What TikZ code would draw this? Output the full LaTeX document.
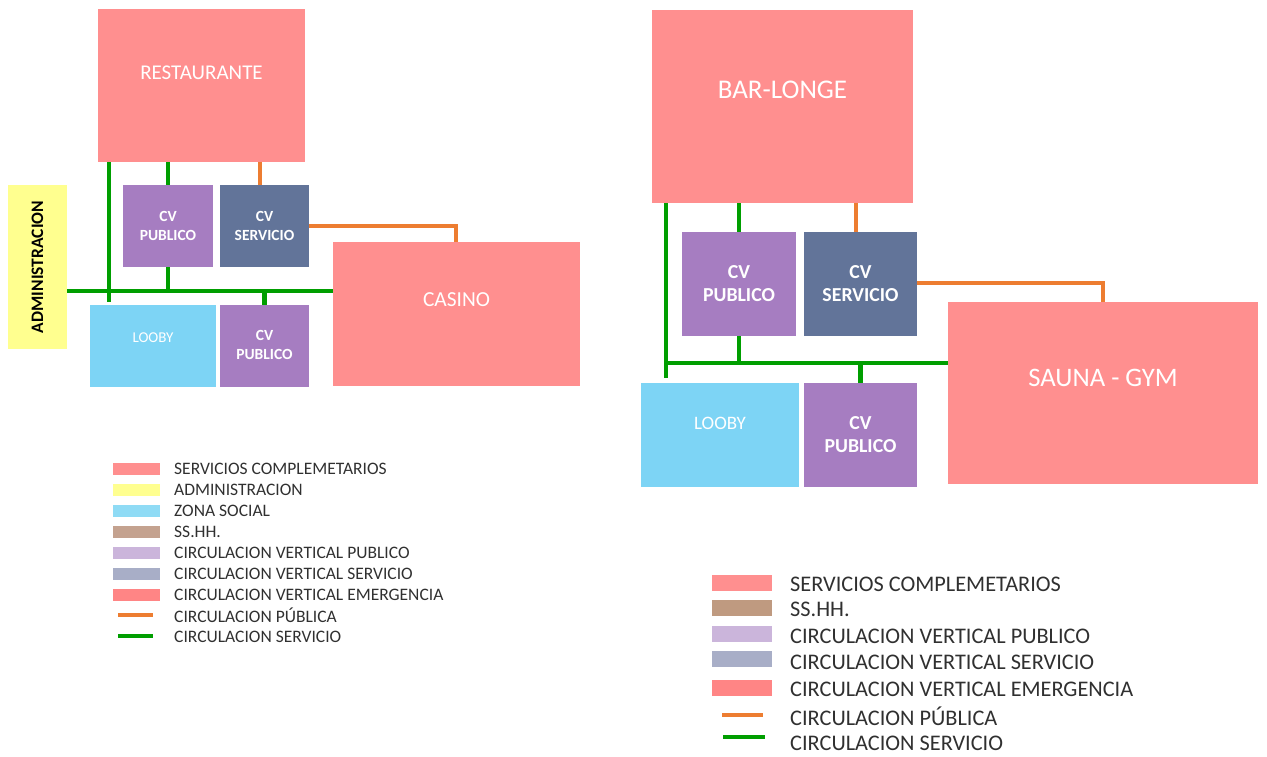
\documentclass[tikz,border=0pt]{standalone}
\usepackage{fontspec}
\setmainfont{Carlito}
\definecolor{salmon}{HTML}{FF8F8F}
\definecolor{admyellow}{HTML}{FFFF8F}
\definecolor{cvpub}{HTML}{A67DC1}
\definecolor{cvserv}{HTML}{627499}
\definecolor{social}{HTML}{7DD4F5}
\definecolor{svcgreen}{HTML}{009E00}
\definecolor{puborange}{HTML}{ED7D31}
\definecolor{lgyellow}{HTML}{FFFF90}
\definecolor{lgblue}{HTML}{8FDBF5}
\definecolor{lgbrown}{HTML}{C4A28F}
\definecolor{lgbrownb}{HTML}{BF9A80}
\definecolor{lgpurple}{HTML}{CBB5DB}
\definecolor{lggray}{HTML}{A8AEC7}
\definecolor{lgred}{HTML}{FF8585}
\definecolor{legtext}{HTML}{303030}
\begin{document}
\begin{tikzpicture}[x=1pt,y=-1pt,
  room/.style={inner sep=0pt, outer sep=0pt, anchor=north west},
  roomlabel/.style={text=white, inner sep=0pt},
  cvlabel/.style={text=white, font=\bfseries, align=center, inner sep=0pt},
  svc/.style={draw=svcgreen, line width=4.2pt},
  pub/.style={draw=puborange, line width=3.6pt},
  swatchA/.style={minimum width=47pt, minimum height=12pt, inner sep=0pt, anchor=west},
  swatchB/.style={minimum width=60pt, minimum height=16pt, inner sep=0pt, anchor=west},
  legA/.style={anchor=west, inner sep=0pt, text=legtext, font=\fontsize{17.5}{20}\selectfont},
  legB/.style={anchor=west, inner sep=0pt, text=legtext, font=\fontsize{22.3}{26}\selectfont}
]
\useasboundingbox (0,0) rectangle (1267,756);

% ---------------- first floor block ----------------
\node[room, fill=salmon, minimum width=207pt, minimum height=153pt] (rest) at (98,9) {};
\node[roomlabel, font=\fontsize{21}{24}\selectfont] (restT) at (201.5,73) {RESTAURANTE};
\node[room, fill=admyellow, minimum width=59pt, minimum height=164pt] (admin) at (8,185) {};
\node[rotate=90, inner sep=0pt, font=\fontsize{17.5}{20}\selectfont\bfseries] (adminT) at (37.5,267) {ADMINISTRACION};
\node[room, fill=cvpub, minimum width=90pt, minimum height=82pt] (cvp1) at (123,185) {};
\node[cvlabel, font=\fontsize{15.5}{19}\selectfont\bfseries] at (cvp1.center) {CV\\PUBLICO};
\node[room, fill=cvserv, minimum width=89pt, minimum height=82pt] (cvs1) at (220,185) {};
\node[cvlabel, font=\fontsize{15.5}{19}\selectfont\bfseries] at (cvs1.center) {CV\\SERVICIO};
\node[room, fill=social, minimum width=126pt, minimum height=82pt] (looby1) at (90,305) {};
\node[roomlabel, font=\fontsize{15}{18}\selectfont] (loobyT1) at (153,338) {LOOBY};
\node[room, fill=cvpub, minimum width=89pt, minimum height=82pt] (cvp2) at (220,305) {};
\node[cvlabel, font=\fontsize{15.5}{19}\selectfont\bfseries] at ([yshift=1.5pt]cvp2.center) {CV\\PUBLICO};
\node[room, fill=salmon, minimum width=247pt, minimum height=144pt] (casino) at (333,242) {};
\node[roomlabel, font=\fontsize{21.4}{24}\selectfont] (casinoT) at (456.5,300) {CASINO};

% service circulation (green)
\coordinate (lv1) at (109,302);
\coordinate (h1) at (0,291);
\draw[svc] (rest.south -| lv1) -- (lv1);
\draw[svc] (admin.east |- h1) -- (casino.west |- h1);
\draw[svc] (cvp1.north |- rest.south) -- (cvp1.north);
\draw[svc] (cvp1.south) -- (cvp1.south |- h1);
\draw[svc] (cvp2.north |- h1) -- (cvp2.north);
% public circulation (orange)
\draw[pub] ([xshift=-4.5pt]cvs1.north) -- ([xshift=-4.5pt]cvs1.north |- rest.south);
\coordinate (o1) at (456,226);
\draw[pub] (o1 -| cvs1.east) -- (o1) -- (o1 |- casino.north);

% ---------------- second floor block ----------------
\node[room, fill=salmon, minimum width=261pt, minimum height=193pt] (bar) at (652,10) {};
\node[roomlabel, font=\fontsize{27}{30}\selectfont] (barT) at (782.5,90) {BAR-LONGE};
\node[room, fill=cvpub, minimum width=114pt, minimum height=104pt] (cvp3) at (682,232) {};
\node[cvlabel, font=\fontsize{19.8}{23}\selectfont\bfseries] at ([yshift=0.5pt]cvp3.center) {CV\\PUBLICO};
\node[room, fill=cvserv, minimum width=113pt, minimum height=104pt] (cvs3) at (804,232) {};
\node[cvlabel, font=\fontsize{19.8}{23}\selectfont\bfseries] at ([yshift=0.5pt]cvs3.center) {CV\\SERVICIO};
\node[room, fill=social, minimum width=158pt, minimum height=104pt] (looby3) at (641,383) {};
\node[roomlabel, font=\fontsize{19}{22}\selectfont] (loobyT3) at (720,423) {LOOBY};
\node[room, fill=cvpub, minimum width=113pt, minimum height=104pt] (cvp4) at (804,383) {};
\node[cvlabel, font=\fontsize{19.8}{23}\selectfont\bfseries] at (cvp4.center) {CV\\PUBLICO};
\node[room, fill=salmon, minimum width=310pt, minimum height=182pt] (sauna) at (948,302) {};
\node[roomlabel, font=\fontsize{26.7}{30}\selectfont] (saunaT) at (1103,378) {SAUNA - GYM};

% service circulation (green)
\coordinate (lv3) at (666,378);
\coordinate (h3) at (0,363);
\draw[svc] (bar.south -| lv3) -- (lv3);
\draw[svc] (lv3 |- h3) -- (sauna.west |- h3);
\draw[svc] (cvp3.north |- bar.south) -- (cvp3.north);
\draw[svc] (cvp3.south) -- (cvp3.south |- h3);
\draw[svc] (cvp4.north |- h3) -- (cvp4.north);
% public circulation (orange)
\draw[pub] ([xshift=-4.5pt]cvs3.north) -- ([xshift=-4.5pt]cvs3.north |- bar.south);
\coordinate (o3) at (1103,283);
\draw[pub] (o3 -| cvs3.east) -- (o3) -- (o3 |- sauna.north);

% ---------------- legend, first floor ----------------
\node[swatchA, fill=salmon]   (la1) at (113,468.5) {};
\node[legA] at (174,468.5) {SERVICIOS COMPLEMETARIOS};
\node[swatchA, fill=lgyellow] (la2) at (113,489.5) {};
\node[legA] at (174,489.5) {ADMINISTRACION};
\node[swatchA, fill=lgblue]   (la3) at (113,510.5) {};
\node[legA] at (174,510.5) {ZONA SOCIAL};
\node[swatchA, fill=lgbrown]  (la4) at (113,531.5) {};
\node[legA] at (174,531.5) {SS.HH.};
\node[swatchA, fill=lgpurple] (la5) at (113,552.5) {};
\node[legA] at (174,552.5) {CIRCULACION VERTICAL PUBLICO};
\node[swatchA, fill=lggray]   (la6) at (113,573.5) {};
\node[legA] at (174,573.5) {CIRCULACION VERTICAL SERVICIO};
\node[swatchA, fill=lgred]    (la7) at (113,594.5) {};
\node[legA] at (174,594.5) {CIRCULACION VERTICAL EMERGENCIA};
\coordinate (la8a) at (118,615);
\coordinate (la8b) at (153,615);
\draw[draw=puborange, line width=3.6pt] (la8a) -- (la8b);
\node[legA] at (174,615.5) {CIRCULACION PÚBLICA};
\coordinate (la9a) at (118,636);
\coordinate (la9b) at (153,636);
\draw[draw=svcgreen, line width=3.6pt] (la9a) -- (la9b);
\node[legA] at (174,636.5) {CIRCULACION SERVICIO};

% ---------------- legend, second floor ----------------
\node[swatchB, fill=salmon]   (lb1) at (712,583) {};
\node[legB] at (790,584) {SERVICIOS COMPLEMETARIOS};
\node[swatchB, fill=lgbrownb] (lb2) at (712,608) {};
\node[legB] at (790,609.5) {SS.HH.};
\node[swatchB, fill=lgpurple] (lb3) at (712,634) {};
\node[legB] at (790,636) {CIRCULACION VERTICAL PUBLICO};
\node[swatchB, fill=lggray]   (lb4) at (712,659) {};
\node[legB] at (790,662) {CIRCULACION VERTICAL SERVICIO};
\node[swatchB, fill=lgred]    (lb5) at (712,688) {};
\node[legB] at (790,689) {CIRCULACION VERTICAL EMERGENCIA};
\coordinate (lb6a) at (722,715);
\coordinate (lb6b) at (763,715);
\draw[draw=puborange, line width=4pt] (lb6a) -- (lb6b);
\node[legB] at (790,716) {CIRCULACION PÚBLICA};
\coordinate (lb7a) at (723,737);
\coordinate (lb7b) at (765,737);
\draw[draw=svcgreen, line width=4pt] (lb7a) -- (lb7b);
\node[legB] at (790,743) {CIRCULACION SERVICIO};
\end{tikzpicture}
\end{document}
